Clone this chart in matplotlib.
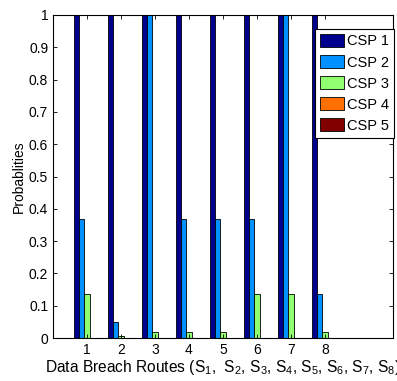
import numpy as np
import matplotlib
matplotlib.use("Agg")
from matplotlib import pyplot as plt

plt.rcParams['font.family'] = ['Liberation Sans', 'DejaVu Sans']
plt.rcParams['mathtext.fontset'] = 'custom'
plt.rcParams['mathtext.rm'] = 'Liberation Sans'
plt.rcParams['mathtext.it'] = 'Liberation Sans'

# data breach routes S1..S8
routes = [1, 2, 3, 4, 5, 6, 7, 8]
csp1 = [1.0, 1.0, 1.0, 1.0, 1.0, 1.0, 1.0, 1.0]
csp2 = [0.3679, 0.0498, 1.0, 0.3679, 0.3679, 0.3679, 1.0, 0.1353]
csp3 = [0.1353, 0.0067, 0.0183, 0.0183, 0.0183, 0.1353, 0.1353, 0.0183]
csp4 = [0.0, 0.0, 0.0, 0.0, 0.0012, 0.0, 0.0, 0.0012]
csp5 = [0.0, 0.0, 0.0, 0.0, 0.0, 0.0, 0.0, 0.0]
names = ['CSP 1', 'CSP 2', 'CSP 3', 'CSP 4', 'CSP 5']
colors = ['#00008F', '#0090FF', '#90FF70', '#FF7000', '#800000']

W, H = 397, 381
fig = plt.figure(figsize=(W / 100, H / 100), dpi=100)
ax = fig.add_axes([53 / W, 1 - 338 / H, 340 / W, 323 / H])

x = np.array(routes)
series = [csp1, csp2, csp3, csp4, csp5]
w = 0.148
for i, vals in enumerate(series):
    ax.bar(x + (i - 2) * w, vals, width=w, color=colors[i], edgecolor='black',
           linewidth=0.6, label=names[i])

ax.set_xlim(0, 10)
ax.set_ylim(0, 1)
ax.set_xticks(routes)
ax.set_yticks(np.arange(0, 1.01, 0.1))
ax.set_yticklabels(['0', '0.1', '0.2', '0.3', '0.4', '0.5', '0.6', '0.7', '0.8', '0.9', '1'])
ax.tick_params(direction='in', top=True, right=True, labelsize=10, length=3, width=0.6)
for s in ax.spines.values():
    s.set_linewidth(0.8)

ax.set_ylabel('Probablities', fontsize=10, labelpad=2)
ax.set_xlabel(r'Data Breach Routes (S$_1$,  S$_2$, S$_3$, S$_4$, S$_5$, S$_6$, S$_7$, S$_8$)',
              fontsize=11.2, labelpad=1)

leg = ax.legend(loc='upper right', bbox_to_anchor=(394 / W, 1 - 29 / H),
                bbox_transform=fig.transFigure, borderaxespad=0,
                fontsize=10.5, fancybox=False, edgecolor='black',
                handlelength=1.64, handleheight=0.96, handletextpad=0.2,
                labelspacing=0.46, borderpad=0.35)
leg.get_frame().set_linewidth(0.8)
leg.get_frame().set_alpha(1)

fig.savefig('out.png', dpi=100)
